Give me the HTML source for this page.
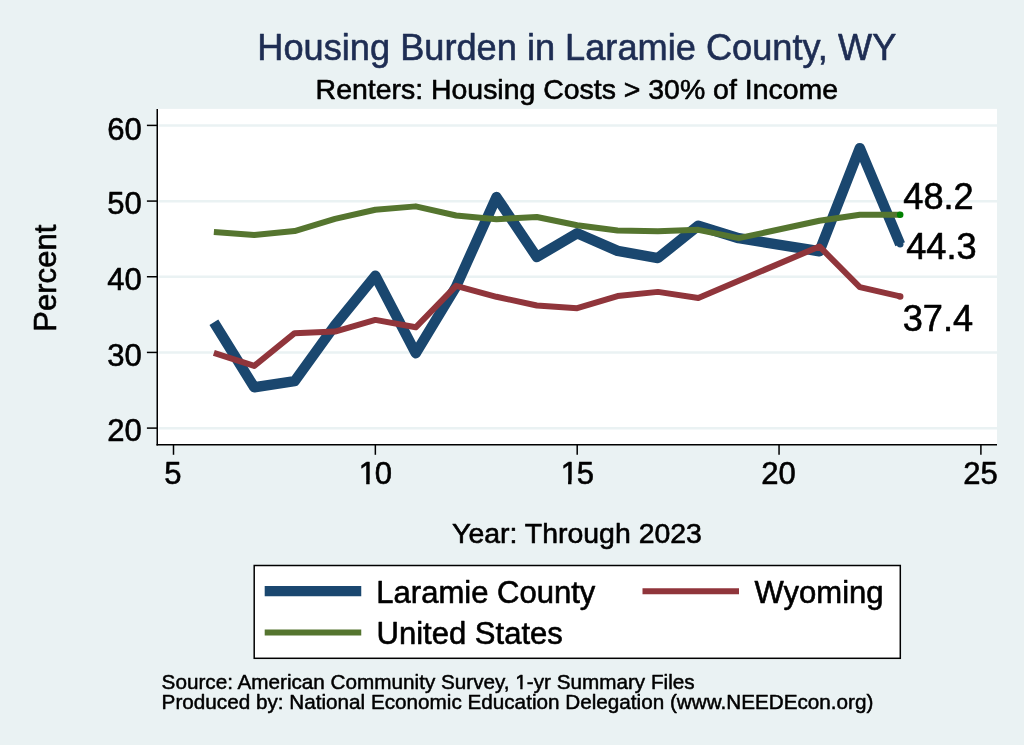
<!DOCTYPE html>
<html lang="en">
<head>
<meta charset="utf-8">
<title>Housing Burden in Laramie County, WY</title>
<style>
html,body{margin:0;padding:0;background:#eaf2f3;}
body{width:1024px;height:745px;overflow:hidden;}
svg{display:block;}
text{font-family:"Liberation Sans",sans-serif;fill:#000;stroke:#000;stroke-width:0.6px;stroke-linejoin:round;}
.t{font-size:36.2px;fill:#1e2d53;stroke:#1e2d53;}
.st{font-size:28.45px;}
.al{font-size:31.04px;}
.at{font-size:28.45px;}
.ml{font-size:36.2px;}
.lg{font-size:31.04px;}
.nt{font-size:20.7px;stroke-width:0.5px;}
</style>
</head>
<body>
<svg width="1024" height="745" viewBox="0 0 1024 745">
<rect x="0" y="0" width="1024" height="745" fill="#eaf2f3"/>
<rect x="157.0" y="108.9" width="840.0" height="335.79999999999995" fill="#ffffff"/>

<g stroke="#eaf2f3" stroke-width="2.5" fill="none">
<line x1="158.6" y1="428.20" x2="997.0" y2="428.20"/>
<line x1="158.6" y1="352.53" x2="997.0" y2="352.53"/>
<line x1="158.6" y1="276.85" x2="997.0" y2="276.85"/>
<line x1="158.6" y1="201.18" x2="997.0" y2="201.18"/>
<line x1="158.6" y1="125.50" x2="997.0" y2="125.50"/>
</g>
<polyline points="213.87,322.16 254.24,387.24 294.61,381.18 334.98,325.18 375.35,275.77 415.72,353.18 456.09,286.59 496.46,197.06 536.83,257.07 577.20,233.24 617.57,250.87 657.94,258.06 698.31,225.67 738.68,238.16 819.42,251.25 859.79,148.10 900.16,244.21" fill="none" stroke="#1a476f" stroke-width="10.4" stroke-linejoin="round" stroke-linecap="butt"/>
<polyline points="213.87,352.80 254.24,365.90 294.61,333.13 334.98,331.61 375.35,319.88 415.72,327.30 456.09,285.83 496.46,296.80 536.83,305.51 577.20,308.16 617.57,296.05 657.94,291.88 698.31,297.94 819.42,246.48 859.79,287.19 900.16,296.43" fill="none" stroke="#90353b" stroke-width="6.0" stroke-linejoin="round" stroke-linecap="butt"/>
<polyline points="213.87,231.95 254.24,234.98 294.61,231.04 334.98,218.86 375.35,209.70 415.72,206.37 456.09,215.45 496.46,219.24 536.83,216.97 577.20,225.29 617.57,230.59 657.94,231.35 698.31,229.83 738.68,238.16 819.42,220.75 859.79,214.70 900.16,214.70" fill="none" stroke="#55752f" stroke-width="6.0" stroke-linejoin="round" stroke-linecap="butt"/>
<circle cx="900.16" cy="244.21" r="3.3" fill="#1a476f"/>
<circle cx="900.16" cy="296.43" r="3.3" fill="#90353b"/>
<circle cx="900.16" cy="214.70" r="3.3" fill="#008000"/>
<g stroke="#000" stroke-width="1.5" fill="none">
<line x1="157.25" y1="108.9" x2="157.25" y2="445.4"/>
<line x1="156.5" y1="444.65" x2="997.0" y2="444.65"/>
<line x1="146.9" y1="428.10" x2="157.25" y2="428.10"/>
<line x1="146.9" y1="352.43" x2="157.25" y2="352.43"/>
<line x1="146.9" y1="276.75" x2="157.25" y2="276.75"/>
<line x1="146.9" y1="201.08" x2="157.25" y2="201.08"/>
<line x1="146.9" y1="125.40" x2="157.25" y2="125.40"/>
<line x1="173.50" y1="444.65" x2="173.50" y2="454.8"/>
<line x1="375.35" y1="444.65" x2="375.35" y2="454.8"/>
<line x1="577.20" y1="444.65" x2="577.20" y2="454.8"/>
<line x1="779.05" y1="444.65" x2="779.05" y2="454.8"/>
<line x1="980.90" y1="444.65" x2="980.90" y2="454.8"/>
</g>
<text class="al" x="141.8" y="441.00" text-anchor="end">20</text>
<text class="al" x="141.8" y="366.20" text-anchor="end">30</text>
<text class="al" x="141.8" y="290.30" text-anchor="end">40</text>
<text class="al" x="141.8" y="214.30" text-anchor="end">50</text>
<text class="al" x="141.8" y="139.60" text-anchor="end">60</text>
<text class="al" x="173.00" y="483.7" text-anchor="middle">5</text>
<clipPath id="c10"><path clip-rule="evenodd" d="M0,0H1024V745H0ZM359.09,480.40H366.24V486.70H359.09ZM369.59,480.40H375.99V486.70H369.59Z"/></clipPath>
<text class="al" x="358.79 374.85" y="483.7" clip-path="url(#c10)">10</text>
<clipPath id="c15"><path clip-rule="evenodd" d="M0,0H1024V745H0ZM560.94,480.40H568.09V486.70H560.94ZM571.44,480.40H577.84V486.70H571.44Z"/></clipPath>
<text class="al" x="560.64 576.70" y="483.7" clip-path="url(#c15)">15</text>
<text class="al" x="778.55" y="483.7" text-anchor="middle">20</text>
<text class="al" x="980.40" y="483.7" text-anchor="middle">25</text>
<text class="t" x="576.8" y="59.6" text-anchor="middle">Housing Burden in Laramie County, WY</text>
<text class="st" x="576.8" y="98.7" text-anchor="middle">Renters: Housing Costs &gt; 30% of Income</text>
<text class="at" x="577" y="543.3" text-anchor="middle">Year: Through 2023</text>
<text class="al" transform="translate(55.7 278.2) rotate(-90)" text-anchor="middle">Percent</text>
<text class="ml" x="903.3" y="209">48.2</text>
<text class="ml" x="906.2" y="259.3">44.3</text>
<text class="ml" x="902.7" y="331">37.4</text>
<rect x="254.2" y="565.5" width="646.0999999999999" height="92.79999999999995" fill="#fff" stroke="#000" stroke-width="1.5"/>
<line x1="264.7" y1="591.15" x2="361.25" y2="591.15" stroke="#1a476f" stroke-width="10.4"/>
<line x1="264.7" y1="632.5" x2="361.25" y2="632.5" stroke="#55752f" stroke-width="6.0"/>
<line x1="642.5" y1="591.15" x2="739" y2="591.15" stroke="#90353b" stroke-width="6.0"/>
<text class="lg" x="376.3" y="603.3">Laramie County</text>
<text class="lg" x="376.5" y="644.2">United States</text>
<text class="lg" x="754.5" y="603.4">Wyoming</text>
<clipPath id="cn"><path clip-rule="evenodd" d="M0,0H1024V745H0ZM515.52,686.70H520.29V690.90H515.52ZM522.52,686.70H526.79V690.90H522.52Z"/></clipPath>
<text class="nt" x="161.6" y="688.9" clip-path="url(#cn)">Source: American Community Survey, 1-yr Summary Files</text>
<text class="nt" x="161.6" y="708.9">Produced by: National Economic Education Delegation (www.NEEDEcon.org)</text>
</svg>
</body>
</html>
